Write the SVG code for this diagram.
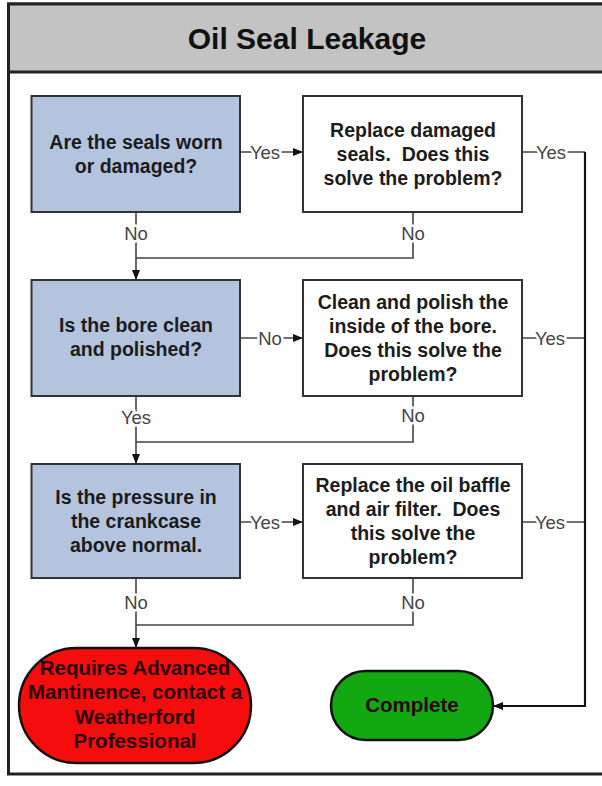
<svg xmlns="http://www.w3.org/2000/svg" width="602" height="786" viewBox="0 0 602 786">
  <defs>
    <marker id="arrow" viewBox="0 0 10 10" refX="10" refY="5" markerWidth="10" markerHeight="10" markerUnits="userSpaceOnUse" orient="auto">
      <path d="M0,1 L10,5 L0,9 Z" fill="#111"/>
    </marker>
    <style>
      .frame { fill: #ffffff; stroke: #222; stroke-width: 3; }
      .header { fill: #c3c3c3; stroke: #222; stroke-width: 3; }
      .title { font-family: "Liberation Sans", Arial, sans-serif; font-weight: bold; font-size: 30px; fill: #111; text-anchor: middle; }
      .decision { fill: #b4c4de; stroke: #333; stroke-width: 2; }
      .action { fill: #ffffff; stroke: #333; stroke-width: 2; }
      .box-text { font-family: "Liberation Sans", Arial, sans-serif; font-weight: bold; font-size: 19.5px; fill: #1c1c1c; text-anchor: middle; white-space: pre; }
      .end-red { fill: #f50d0d; stroke: #111; stroke-width: 2.5; }
      .end-green { fill: #12a812; stroke: #111; stroke-width: 2.5; }
      .end-text { font-family: "Liberation Sans", Arial, sans-serif; font-weight: bold; font-size: 20.5px; fill: #2a0505; text-anchor: middle; }
      .wire { fill: none; stroke: #444; stroke-width: 1.6; }
      .wire-main { fill: none; stroke: #111; stroke-width: 2.2; }
      .label { font-family: "Liberation Sans", Arial, sans-serif; font-size: 18.5px; fill: #444; text-anchor: middle; paint-order: stroke; stroke: #fff; stroke-width: 5; stroke-linejoin: round; }
    </style>
  </defs>

  <!-- outer frame and title bar -->
  <rect class="frame" x="8.5" y="4" width="600" height="770"/>
  <rect class="header" x="8.5" y="4" width="600" height="68"/>
  <text class="title" x="307" y="49">Oil Seal Leakage</text>

  <!-- connectors -->
  <g id="connectors">
    <!-- row 1 -->
    <line class="wire" x1="240" y1="152" x2="303" y2="152" marker-end="url(#arrow)"/>
    <line class="wire" x1="136" y1="212" x2="136" y2="280" marker-end="url(#arrow)"/>
    <polyline class="wire" points="413,212 413,258 136,258"/>
    <!-- row 2 -->
    <line class="wire" x1="240" y1="338" x2="303" y2="338" marker-end="url(#arrow)"/>
    <line class="wire" x1="136" y1="396" x2="136" y2="464" marker-end="url(#arrow)"/>
    <polyline class="wire" points="413,396 413,442 136,442"/>
    <!-- row 3 -->
    <line class="wire" x1="240" y1="522" x2="303" y2="522" marker-end="url(#arrow)"/>
    <line class="wire" x1="136" y1="578" x2="136" y2="648" marker-end="url(#arrow)"/>
    <polyline class="wire" points="413,578 413,625 136,625"/>
    <!-- "Yes" branches collecting to the Complete terminal -->
    <line class="wire" x1="522" y1="152" x2="585" y2="152"/>
    <line class="wire" x1="522" y1="338" x2="585" y2="338"/>
    <line class="wire" x1="522" y1="522" x2="585" y2="522"/>
    <polyline class="wire-main" points="585,152 585,706 493,706" marker-end="url(#arrow)"/>

    <!-- connector labels -->
    <text class="label" x="265" y="158.5">Yes</text>
    <text class="label" x="551" y="158.5">Yes</text>
    <text class="label" x="136" y="239.5">No</text>
    <text class="label" x="413" y="239.5">No</text>

    <text class="label" x="270" y="344.5">No</text>
    <text class="label" x="550" y="344.5">Yes</text>
    <text class="label" x="136" y="423.5">Yes</text>
    <text class="label" x="413" y="421.5">No</text>

    <text class="label" x="265" y="528.5">Yes</text>
    <text class="label" x="550" y="528.5">Yes</text>
    <text class="label" x="136" y="608.5">No</text>
    <text class="label" x="413" y="608.5">No</text>
  </g>

  <!-- row 1 -->
  <g id="q-seals">
    <rect class="decision" x="31.5" y="96" width="208.5" height="116"/>
    <text class="box-text" x="136" y="149">Are the seals worn</text>
    <text class="box-text" x="136" y="173">or damaged?</text>
  </g>
  <g id="a-replace-seals">
    <rect class="action" x="303" y="96" width="219" height="116"/>
    <text class="box-text" x="413" y="137">Replace damaged</text>
    <text class="box-text" x="413" y="161" xml:space="preserve">seals.  Does this</text>
    <text class="box-text" x="413" y="185">solve the problem?</text>
  </g>

  <!-- row 2 -->
  <g id="q-bore">
    <rect class="decision" x="31.5" y="280" width="208.5" height="116"/>
    <text class="box-text" x="136" y="332">Is the bore clean</text>
    <text class="box-text" x="136" y="356">and polished?</text>
  </g>
  <g id="a-polish-bore">
    <rect class="action" x="303" y="280" width="219" height="116"/>
    <text class="box-text" x="413" y="309">Clean and polish the</text>
    <text class="box-text" x="413" y="333">inside of the bore.</text>
    <text class="box-text" x="413" y="357">Does this solve the</text>
    <text class="box-text" x="413" y="381">problem?</text>
  </g>

  <!-- row 3 -->
  <g id="q-pressure">
    <rect class="decision" x="31.5" y="464" width="208.5" height="114"/>
    <text class="box-text" x="136" y="504">Is the pressure in</text>
    <text class="box-text" x="136" y="528">the crankcase</text>
    <text class="box-text" x="136" y="552">above normal.</text>
  </g>
  <g id="a-baffle-filter">
    <rect class="action" x="303" y="464" width="219" height="114"/>
    <text class="box-text" x="413" y="492">Replace the oil baffle</text>
    <text class="box-text" x="413" y="516" xml:space="preserve">and air filter.  Does</text>
    <text class="box-text" x="413" y="540">this solve the</text>
    <text class="box-text" x="413" y="564">problem?</text>
  </g>

  <!-- terminals -->
  <g id="t-advanced">
    <rect class="end-red" x="19" y="648" width="232" height="115" rx="57.5" ry="57.5"/>
    <text class="end-text" x="135" y="675">Requires Advanced</text>
    <text class="end-text" x="135" y="699">Mantinence, contact a</text>
    <text class="end-text" x="135" y="724">Weatherford</text>
    <text class="end-text" x="135" y="748">Professional</text>
  </g>
  <g id="t-complete">
    <rect class="end-green" x="331" y="671" width="162" height="69" rx="34.5" ry="34.5"/>
    <text class="end-text" x="412" y="712">Complete</text>
  </g>
</svg>
